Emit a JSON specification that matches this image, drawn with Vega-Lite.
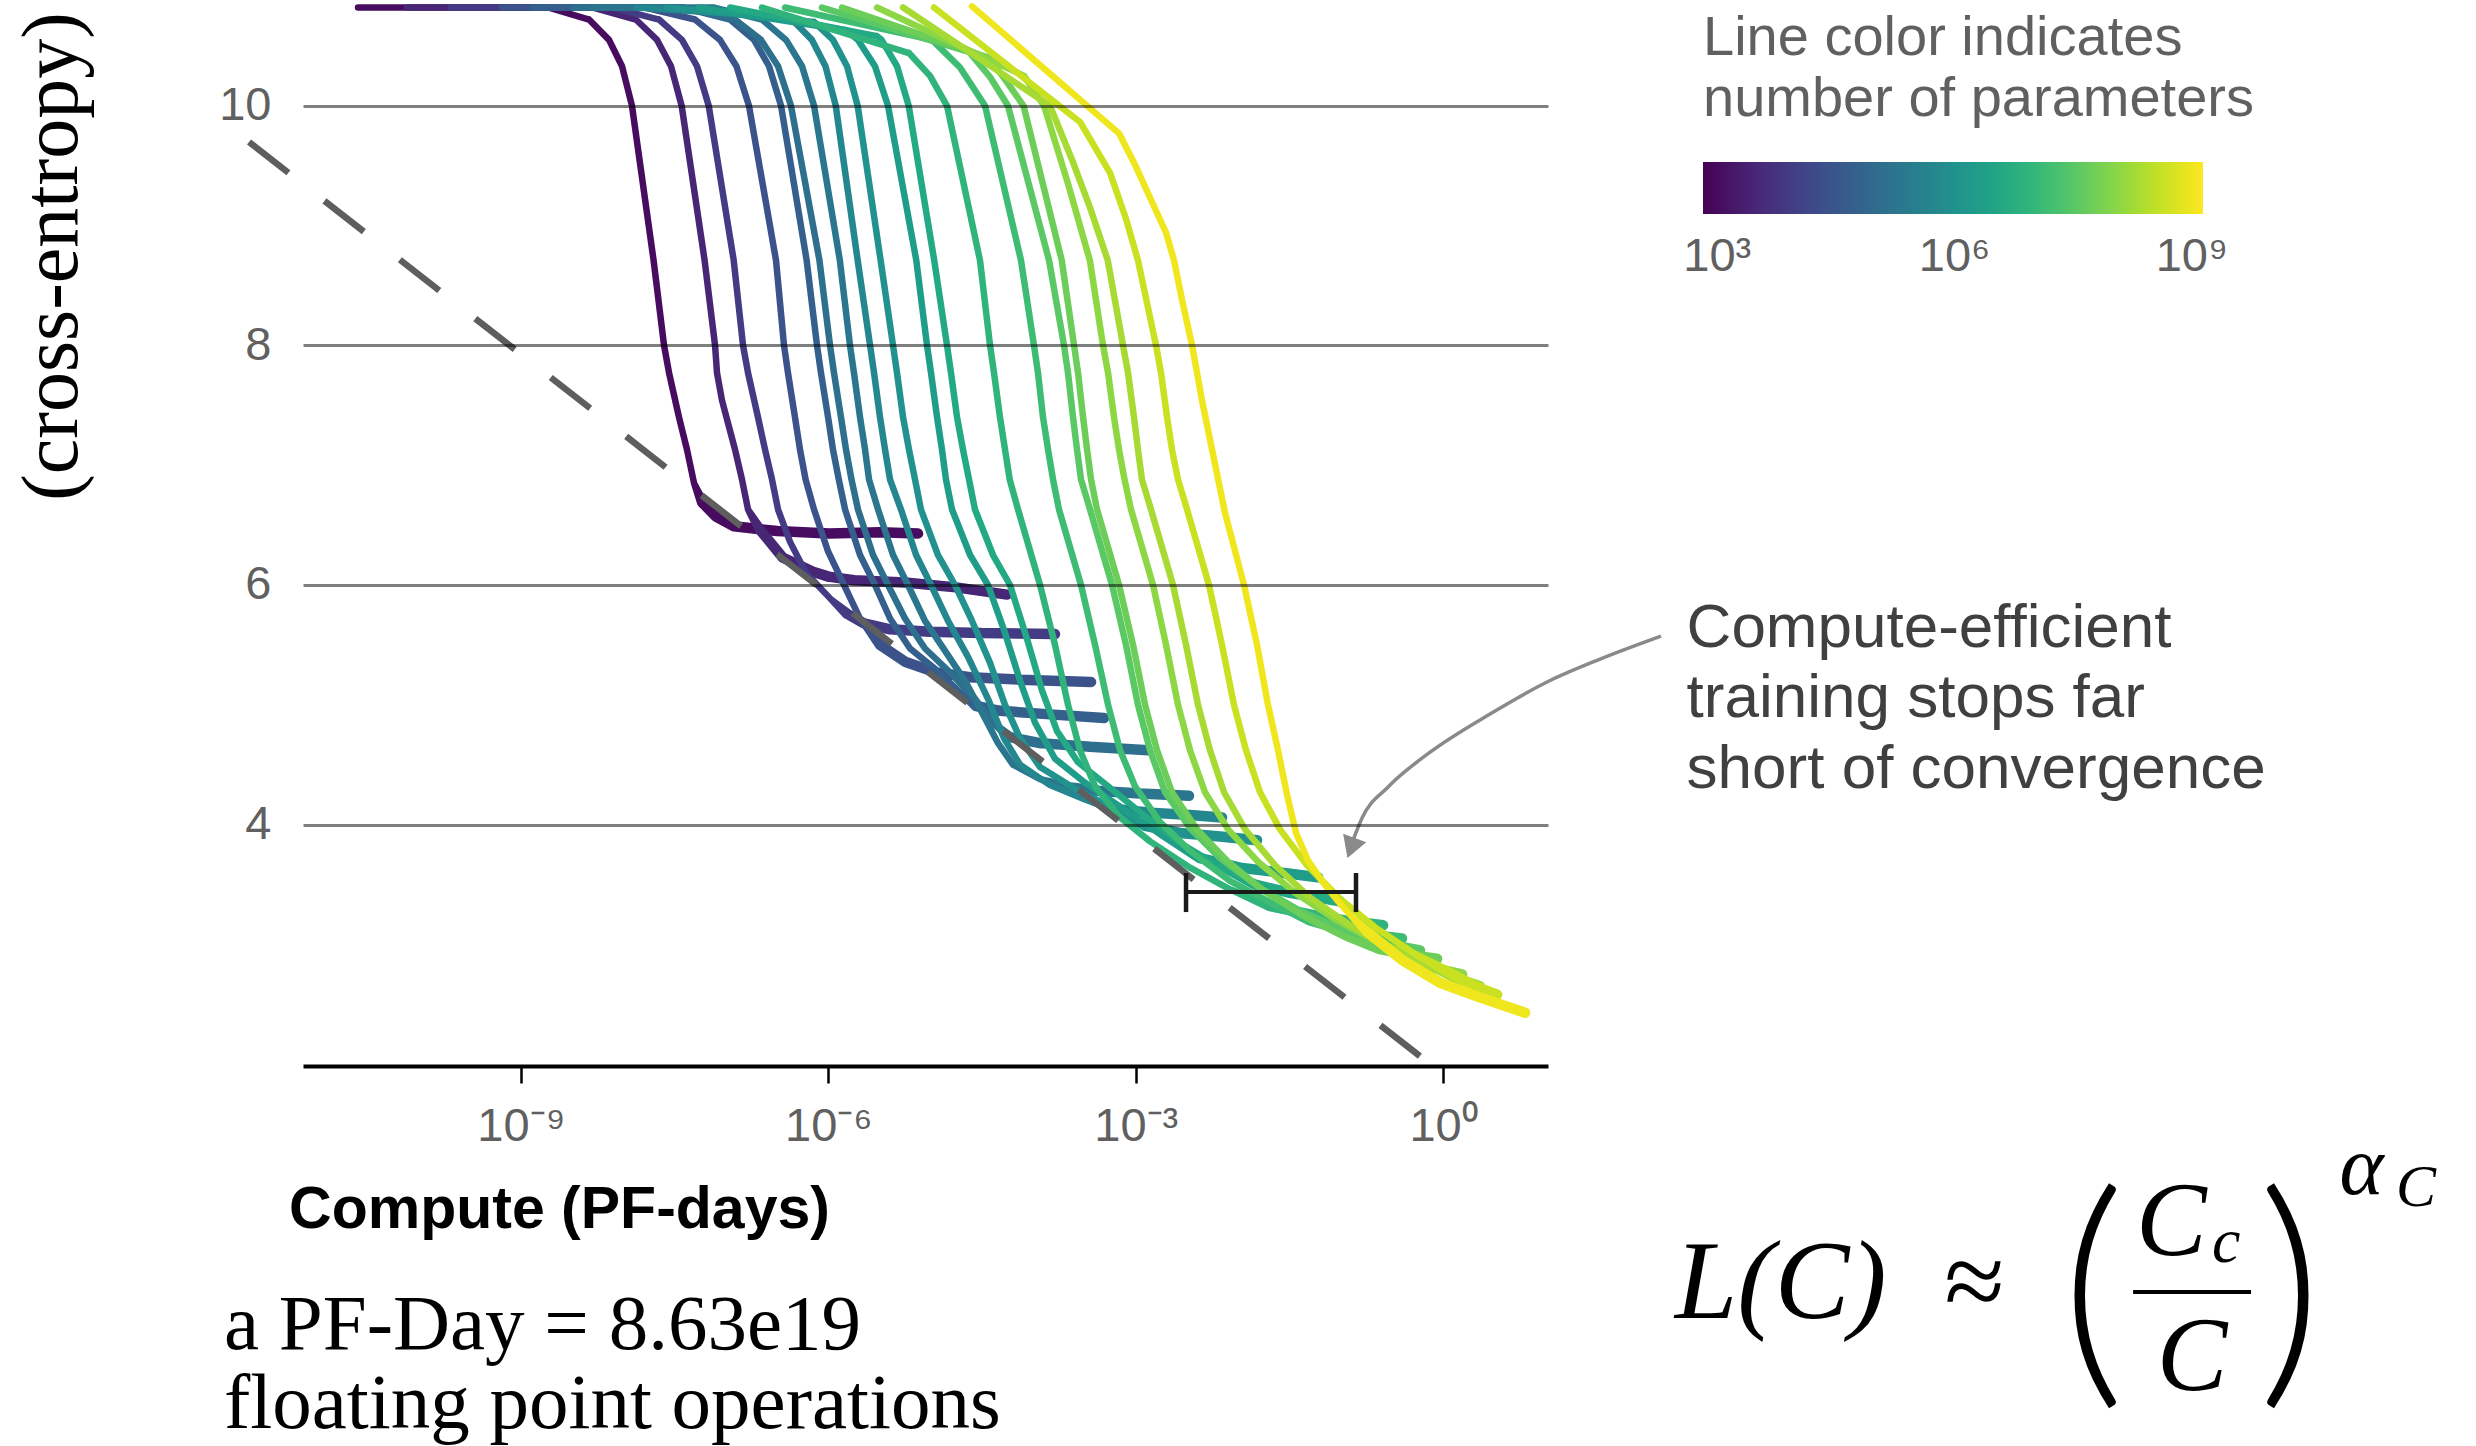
{
"$schema": "https://vega.github.io/schema/vega-lite/v6.json",
"width": 1245,
"height": 1066,
"autosize": {"type": "none"},
"padding": {"left": 303, "top": 0, "right": 928, "bottom": 380},
"background": "white",
"config": {"view": {"stroke": null}},
"datasets": {
"curves": [
{"logN":3.0,"logC":-10.591,"loss":10.82,"phase":"fall"},{"logN":3.0,"logC":-8.727,"loss":10.82,"phase":"fall"},{"logN":3.0,"logC":-8.336,"loss":10.72,"phase":"fall"},{"logN":3.0,"logC":-8.141,"loss":10.55,"phase":"fall"},{"logN":3.0,"logC":-8.014,"loss":10.33,"phase":"fall"},{"logN":3.0,"logC":-7.917,"loss":10.0,"phase":"fall"},{"logN":3.0,"logC":-7.706,"loss":8.71,"phase":"fall"},{"logN":3.0,"logC":-7.604,"loss":8.0,"phase":"fall"},{"logN":3.0,"logC":-7.555,"loss":7.77,"phase":"fall"},{"logN":3.0,"logC":-7.458,"loss":7.40,"phase":"fall"},{"logN":3.0,"logC":-7.380,"loss":7.13,"phase":"fall"},{"logN":3.0,"logC":-7.311,"loss":6.85,"phase":"fall"},{"logN":3.0,"logC":-7.233,"loss":6.69,"phase":"tail"},{"logN":3.0,"logC":-7.097,"loss":6.57,"phase":"tail"},{"logN":3.0,"logC":-6.921,"loss":6.49,"phase":"tail"},{"logN":3.0,"logC":-6.501,"loss":6.45,"phase":"tail"},{"logN":3.0,"logC":-5.994,"loss":6.43,"phase":"tail"},{"logN":3.0,"logC":-5.496,"loss":6.44,"phase":"tail"},{"logN":3.0,"logC":-5.125,"loss":6.43,"phase":"tail"},
{"logN":3.48,"logC":-10.113,"loss":10.82,"phase":"fall"},{"logN":3.48,"logC":-8.297,"loss":10.82,"phase":"fall"},{"logN":3.48,"logC":-7.879,"loss":10.72,"phase":"fall"},{"logN":3.48,"logC":-7.672,"loss":10.55,"phase":"fall"},{"logN":3.48,"logC":-7.536,"loss":10.33,"phase":"fall"},{"logN":3.48,"logC":-7.432,"loss":10.0,"phase":"fall"},{"logN":3.48,"logC":-7.208,"loss":8.71,"phase":"fall"},{"logN":3.48,"logC":-7.106,"loss":8.0,"phase":"fall"},{"logN":3.48,"logC":-7.087,"loss":7.77,"phase":"fall"},{"logN":3.48,"logC":-7.038,"loss":7.54,"phase":"fall"},{"logN":3.48,"logC":-6.911,"loss":7.13,"phase":"fall"},{"logN":3.48,"logC":-6.843,"loss":6.88,"phase":"fall"},{"logN":3.48,"logC":-6.784,"loss":6.63,"phase":"fall"},{"logN":3.48,"logC":-6.667,"loss":6.46,"phase":"tail"},{"logN":3.48,"logC":-6.447,"loss":6.23,"phase":"tail"},{"logN":3.48,"logC":-6.150,"loss":6.11,"phase":"tail"},{"logN":3.48,"logC":-5.998,"loss":6.07,"phase":"tail"},{"logN":3.48,"logC":-5.750,"loss":6.04,"phase":"tail"},{"logN":3.48,"logC":-5.252,"loss":6.02,"phase":"tail"},{"logN":3.48,"logC":-4.754,"loss":5.98,"phase":"tail"},{"logN":3.48,"logC":-4.256,"loss":5.92,"phase":"tail"},
{"logN":3.91,"logC":-9.683,"loss":10.82,"phase":"fall"},{"logN":3.91,"logC":-8.105,"loss":10.82,"phase":"fall"},{"logN":3.91,"logC":-7.653,"loss":10.72,"phase":"fall"},{"logN":3.91,"logC":-7.429,"loss":10.55,"phase":"fall"},{"logN":3.91,"logC":-7.282,"loss":10.33,"phase":"fall"},{"logN":3.91,"logC":-7.168,"loss":10.0,"phase":"fall"},{"logN":3.91,"logC":-6.924,"loss":8.71,"phase":"fall"},{"logN":3.91,"logC":-6.833,"loss":8.0,"phase":"fall"},{"logN":3.91,"logC":-6.784,"loss":7.77,"phase":"fall"},{"logN":3.91,"logC":-6.687,"loss":7.40,"phase":"fall"},{"logN":3.91,"logC":-6.618,"loss":7.13,"phase":"fall"},{"logN":3.91,"logC":-6.550,"loss":6.88,"phase":"fall"},{"logN":3.91,"logC":-6.491,"loss":6.63,"phase":"fall"},{"logN":3.91,"logC":-6.374,"loss":6.36,"phase":"fall"},{"logN":3.91,"logC":-6.218,"loss":6.10,"phase":"fall"},{"logN":3.91,"logC":-5.974,"loss":5.88,"phase":"fall"},{"logN":3.91,"logC":-5.818,"loss":5.76,"phase":"tail"},{"logN":3.91,"logC":-5.652,"loss":5.68,"phase":"tail"},{"logN":3.91,"logC":-5.398,"loss":5.63,"phase":"tail"},{"logN":3.91,"logC":-5.008,"loss":5.61,"phase":"tail"},{"logN":3.91,"logC":-4.510,"loss":5.60,"phase":"tail"},{"logN":3.91,"logC":-3.788,"loss":5.59,"phase":"tail"},
{"logN":4.41,"logC":-9.185,"loss":10.82,"phase":"fall"},{"logN":4.41,"logC":-7.790,"loss":10.82,"phase":"fall"},{"logN":4.41,"logC":-7.302,"loss":10.72,"phase":"fall"},{"logN":4.41,"logC":-7.058,"loss":10.55,"phase":"fall"},{"logN":4.41,"logC":-6.897,"loss":10.33,"phase":"fall"},{"logN":4.41,"logC":-6.775,"loss":10.0,"phase":"fall"},{"logN":4.41,"logC":-6.511,"loss":8.71,"phase":"fall"},{"logN":4.41,"logC":-6.433,"loss":8.0,"phase":"fall"},{"logN":4.41,"logC":-6.394,"loss":7.77,"phase":"fall"},{"logN":4.41,"logC":-6.326,"loss":7.40,"phase":"fall"},{"logN":4.41,"logC":-6.277,"loss":7.13,"phase":"fall"},{"logN":4.41,"logC":-6.222,"loss":6.88,"phase":"fall"},{"logN":4.41,"logC":-6.140,"loss":6.63,"phase":"fall"},{"logN":4.41,"logC":-6.003,"loss":6.28,"phase":"fall"},{"logN":4.41,"logC":-5.847,"loss":6.0,"phase":"fall"},{"logN":4.41,"logC":-5.691,"loss":5.72,"phase":"fall"},{"logN":4.41,"logC":-5.496,"loss":5.50,"phase":"tail"},{"logN":4.41,"logC":-5.252,"loss":5.36,"phase":"tail"},{"logN":4.41,"logC":-4.949,"loss":5.27,"phase":"tail"},{"logN":4.41,"logC":-4.617,"loss":5.23,"phase":"tail"},{"logN":4.41,"logC":-4.129,"loss":5.21,"phase":"tail"},{"logN":4.41,"logC":-3.436,"loss":5.19,"phase":"tail"},
{"logN":4.71,"logC":-8.883,"loss":10.82,"phase":"fall"},{"logN":4.71,"logC":-7.419,"loss":10.82,"phase":"fall"},{"logN":4.71,"logC":-6.960,"loss":10.72,"phase":"fall"},{"logN":4.71,"logC":-6.726,"loss":10.55,"phase":"fall"},{"logN":4.71,"logC":-6.579,"loss":10.33,"phase":"fall"},{"logN":4.71,"logC":-6.462,"loss":10.0,"phase":"fall"},{"logN":4.71,"logC":-6.212,"loss":8.71,"phase":"fall"},{"logN":4.71,"logC":-6.111,"loss":8.0,"phase":"fall"},{"logN":4.71,"logC":-6.072,"loss":7.77,"phase":"fall"},{"logN":4.71,"logC":-6.003,"loss":7.40,"phase":"fall"},{"logN":4.71,"logC":-5.955,"loss":7.13,"phase":"fall"},{"logN":4.71,"logC":-5.898,"loss":6.88,"phase":"fall"},{"logN":4.71,"logC":-5.837,"loss":6.63,"phase":"fall"},{"logN":4.71,"logC":-5.691,"loss":6.25,"phase":"fall"},{"logN":4.71,"logC":-5.545,"loss":6.0,"phase":"fall"},{"logN":4.71,"logC":-5.398,"loss":5.72,"phase":"fall"},{"logN":4.71,"logC":-5.203,"loss":5.47,"phase":"fall"},{"logN":4.71,"logC":-4.959,"loss":5.30,"phase":"fall"},{"logN":4.71,"logC":-4.734,"loss":5.12,"phase":"fall"},{"logN":4.71,"logC":-4.559,"loss":4.99,"phase":"tail"},{"logN":4.71,"logC":-4.325,"loss":4.95,"phase":"tail"},{"logN":4.71,"logC":-3.837,"loss":4.92,"phase":"tail"},{"logN":4.71,"logC":-3.309,"loss":4.89,"phase":"tail"},
{"logN":5.11,"logC":-8.483,"loss":10.82,"phase":"fall"},{"logN":5.11,"logC":-7.419,"loss":10.82,"phase":"fall"},{"logN":5.11,"logC":-6.911,"loss":10.72,"phase":"fall"},{"logN":5.11,"logC":-6.657,"loss":10.55,"phase":"fall"},{"logN":5.11,"logC":-6.491,"loss":10.33,"phase":"fall"},{"logN":5.11,"logC":-6.365,"loss":10.0,"phase":"fall"},{"logN":5.11,"logC":-6.087,"loss":8.71,"phase":"fall"},{"logN":5.11,"logC":-5.984,"loss":8.0,"phase":"fall"},{"logN":5.11,"logC":-5.945,"loss":7.77,"phase":"fall"},{"logN":5.11,"logC":-5.877,"loss":7.40,"phase":"fall"},{"logN":5.11,"logC":-5.828,"loss":7.13,"phase":"fall"},{"logN":5.11,"logC":-5.774,"loss":6.88,"phase":"fall"},{"logN":5.11,"logC":-5.711,"loss":6.63,"phase":"fall"},{"logN":5.11,"logC":-5.564,"loss":6.25,"phase":"fall"},{"logN":5.11,"logC":-5.418,"loss":6.0,"phase":"fall"},{"logN":5.11,"logC":-5.252,"loss":5.72,"phase":"fall"},{"logN":5.11,"logC":-5.057,"loss":5.47,"phase":"fall"},{"logN":5.11,"logC":-4.813,"loss":5.27,"phase":"fall"},{"logN":5.11,"logC":-4.569,"loss":5.05,"phase":"fall"},{"logN":5.11,"logC":-4.393,"loss":4.85,"phase":"fall"},{"logN":5.11,"logC":-4.227,"loss":4.73,"phase":"tail"},{"logN":5.11,"logC":-3.934,"loss":4.68,"phase":"tail"},{"logN":5.11,"logC":-3.446,"loss":4.65,"phase":"tail"},{"logN":5.11,"logC":-2.880,"loss":4.62,"phase":"tail"},
{"logN":5.29,"logC":-8.297,"loss":10.82,"phase":"fall"},{"logN":5.29,"logC":-7.116,"loss":10.82,"phase":"fall"},{"logN":5.29,"logC":-6.648,"loss":10.72,"phase":"fall"},{"logN":5.29,"logC":-6.413,"loss":10.55,"phase":"fall"},{"logN":5.29,"logC":-6.257,"loss":10.33,"phase":"fall"},{"logN":5.29,"logC":-6.140,"loss":10.0,"phase":"fall"},{"logN":5.29,"logC":-5.888,"loss":8.71,"phase":"fall"},{"logN":5.29,"logC":-5.789,"loss":8.0,"phase":"fall"},{"logN":5.29,"logC":-5.750,"loss":7.77,"phase":"fall"},{"logN":5.29,"logC":-5.691,"loss":7.40,"phase":"fall"},{"logN":5.29,"logC":-5.642,"loss":7.13,"phase":"fall"},{"logN":5.29,"logC":-5.603,"loss":6.88,"phase":"fall"},{"logN":5.29,"logC":-5.515,"loss":6.63,"phase":"fall"},{"logN":5.29,"logC":-5.369,"loss":6.25,"phase":"fall"},{"logN":5.29,"logC":-5.223,"loss":6.0,"phase":"fall"},{"logN":5.29,"logC":-5.057,"loss":5.70,"phase":"fall"},{"logN":5.29,"logC":-4.861,"loss":5.45,"phase":"fall"},{"logN":5.29,"logC":-4.666,"loss":5.20,"phase":"fall"},{"logN":5.29,"logC":-4.491,"loss":4.92,"phase":"fall"},{"logN":5.29,"logC":-4.344,"loss":4.68,"phase":"fall"},{"logN":5.29,"logC":-4.198,"loss":4.50,"phase":"fall"},{"logN":5.29,"logC":-3.934,"loss":4.38,"phase":"fall"},{"logN":5.29,"logC":-3.641,"loss":4.31,"phase":"tail"},{"logN":5.29,"logC":-3.349,"loss":4.28,"phase":"tail"},{"logN":5.29,"logC":-2.958,"loss":4.26,"phase":"tail"},{"logN":5.29,"logC":-2.480,"loss":4.24,"phase":"tail"},
{"logN":5.72,"logC":-7.868,"loss":10.82,"phase":"fall"},{"logN":5.72,"logC":-6.433,"loss":10.74,"phase":"fall"},{"logN":5.72,"logC":-6.355,"loss":10.72,"phase":"fall"},{"logN":5.72,"logC":-6.160,"loss":10.55,"phase":"fall"},{"logN":5.72,"logC":-6.028,"loss":10.33,"phase":"fall"},{"logN":5.72,"logC":-5.928,"loss":10.0,"phase":"fall"},{"logN":5.72,"logC":-5.714,"loss":8.71,"phase":"fall"},{"logN":5.72,"logC":-5.593,"loss":8.0,"phase":"fall"},{"logN":5.72,"logC":-5.554,"loss":7.77,"phase":"fall"},{"logN":5.72,"logC":-5.496,"loss":7.40,"phase":"fall"},{"logN":5.72,"logC":-5.447,"loss":7.13,"phase":"fall"},{"logN":5.72,"logC":-5.398,"loss":6.88,"phase":"fall"},{"logN":5.72,"logC":-5.291,"loss":6.63,"phase":"fall"},{"logN":5.72,"logC":-5.144,"loss":6.25,"phase":"fall"},{"logN":5.72,"logC":-4.998,"loss":6.0,"phase":"fall"},{"logN":5.72,"logC":-4.832,"loss":5.70,"phase":"fall"},{"logN":5.72,"logC":-4.637,"loss":5.40,"phase":"fall"},{"logN":5.72,"logC":-4.442,"loss":5.05,"phase":"fall"},{"logN":5.72,"logC":-4.286,"loss":4.72,"phase":"fall"},{"logN":5.72,"logC":-4.129,"loss":4.50,"phase":"fall"},{"logN":5.72,"logC":-3.837,"loss":4.33,"phase":"fall"},{"logN":5.72,"logC":-3.495,"loss":4.21,"phase":"fall"},{"logN":5.72,"logC":-3.202,"loss":4.13,"phase":"tail"},{"logN":5.72,"logC":-2.860,"loss":4.10,"phase":"tail"},{"logN":5.72,"logC":-2.470,"loss":4.08,"phase":"tail"},{"logN":5.72,"logC":-2.158,"loss":4.06,"phase":"tail"},
{"logN":6.02,"logC":-7.575,"loss":10.82,"phase":"fall"},{"logN":6.02,"logC":-6.140,"loss":10.70,"phase":"fall"},{"logN":6.02,"logC":-5.955,"loss":10.55,"phase":"fall"},{"logN":6.02,"logC":-5.818,"loss":10.33,"phase":"fall"},{"logN":6.02,"logC":-5.714,"loss":10.0,"phase":"fall"},{"logN":6.02,"logC":-5.490,"loss":8.71,"phase":"fall"},{"logN":6.02,"logC":-5.369,"loss":8.0,"phase":"fall"},{"logN":6.02,"logC":-5.330,"loss":7.77,"phase":"fall"},{"logN":6.02,"logC":-5.271,"loss":7.40,"phase":"fall"},{"logN":6.02,"logC":-5.213,"loss":7.13,"phase":"fall"},{"logN":6.02,"logC":-5.154,"loss":6.88,"phase":"fall"},{"logN":6.02,"logC":-5.096,"loss":6.63,"phase":"fall"},{"logN":6.02,"logC":-4.930,"loss":6.25,"phase":"fall"},{"logN":6.02,"logC":-4.764,"loss":6.0,"phase":"fall"},{"logN":6.02,"logC":-4.598,"loss":5.70,"phase":"fall"},{"logN":6.02,"logC":-4.422,"loss":5.35,"phase":"fall"},{"logN":6.02,"logC":-4.276,"loss":5.0,"phase":"fall"},{"logN":6.02,"logC":-4.129,"loss":4.72,"phase":"fall"},{"logN":6.02,"logC":-3.934,"loss":4.48,"phase":"fall"},{"logN":6.02,"logC":-3.593,"loss":4.30,"phase":"fall"},{"logN":6.02,"logC":-3.251,"loss":4.15,"phase":"fall"},{"logN":6.02,"logC":-2.909,"loss":3.99,"phase":"tail"},{"logN":6.02,"logC":-2.568,"loss":3.93,"phase":"tail"},{"logN":6.02,"logC":-2.177,"loss":3.90,"phase":"tail"},{"logN":6.02,"logC":-1.816,"loss":3.87,"phase":"tail"},
{"logN":6.33,"logC":-7.263,"loss":10.82,"phase":"fall"},{"logN":6.33,"logC":-5.828,"loss":10.63,"phase":"fall"},{"logN":6.33,"logC":-5.711,"loss":10.55,"phase":"fall"},{"logN":6.33,"logC":-5.545,"loss":10.33,"phase":"fall"},{"logN":6.33,"logC":-5.418,"loss":10.0,"phase":"fall"},{"logN":6.33,"logC":-5.142,"loss":8.71,"phase":"fall"},{"logN":6.33,"logC":-5.037,"loss":8.0,"phase":"fall"},{"logN":6.33,"logC":-4.998,"loss":7.77,"phase":"fall"},{"logN":6.33,"logC":-4.939,"loss":7.40,"phase":"fall"},{"logN":6.33,"logC":-4.891,"loss":7.13,"phase":"fall"},{"logN":6.33,"logC":-4.852,"loss":6.88,"phase":"fall"},{"logN":6.33,"logC":-4.793,"loss":6.63,"phase":"fall"},{"logN":6.33,"logC":-4.617,"loss":6.25,"phase":"fall"},{"logN":6.33,"logC":-4.442,"loss":6.0,"phase":"fall"},{"logN":6.33,"logC":-4.276,"loss":5.6,"phase":"fall"},{"logN":6.33,"logC":-4.129,"loss":5.2,"phase":"fall"},{"logN":6.33,"logC":-3.983,"loss":4.85,"phase":"fall"},{"logN":6.33,"logC":-3.788,"loss":4.55,"phase":"fall"},{"logN":6.33,"logC":-3.495,"loss":4.35,"phase":"fall"},{"logN":6.33,"logC":-3.153,"loss":4.15,"phase":"fall"},{"logN":6.33,"logC":-2.763,"loss":3.92,"phase":"fall"},{"logN":6.33,"logC":-2.372,"loss":3.72,"phase":"tail"},{"logN":6.33,"logC":-1.982,"loss":3.64,"phase":"tail"},{"logN":6.33,"logC":-1.592,"loss":3.60,"phase":"tail"},{"logN":6.33,"logC":-1.221,"loss":3.56,"phase":"tail"},
{"logN":6.63,"logC":-6.960,"loss":10.82,"phase":"fall"},{"logN":6.63,"logC":-5.525,"loss":10.58,"phase":"fall"},{"logN":6.63,"logC":-5.481,"loss":10.55,"phase":"fall"},{"logN":6.63,"logC":-5.330,"loss":10.33,"phase":"fall"},{"logN":6.63,"logC":-5.216,"loss":10.0,"phase":"fall"},{"logN":6.63,"logC":-4.967,"loss":8.71,"phase":"fall"},{"logN":6.63,"logC":-4.842,"loss":8.0,"phase":"fall"},{"logN":6.63,"logC":-4.803,"loss":7.77,"phase":"fall"},{"logN":6.63,"logC":-4.744,"loss":7.40,"phase":"fall"},{"logN":6.63,"logC":-4.686,"loss":7.13,"phase":"fall"},{"logN":6.63,"logC":-4.627,"loss":6.88,"phase":"fall"},{"logN":6.63,"logC":-4.569,"loss":6.63,"phase":"fall"},{"logN":6.63,"logC":-4.393,"loss":6.25,"phase":"fall"},{"logN":6.63,"logC":-4.227,"loss":6.0,"phase":"fall"},{"logN":6.63,"logC":-4.061,"loss":5.55,"phase":"fall"},{"logN":6.63,"logC":-3.915,"loss":5.12,"phase":"fall"},{"logN":6.63,"logC":-3.768,"loss":4.78,"phase":"fall"},{"logN":6.63,"logC":-3.563,"loss":4.52,"phase":"fall"},{"logN":6.63,"logC":-3.270,"loss":4.32,"phase":"fall"},{"logN":6.63,"logC":-2.909,"loss":4.07,"phase":"fall"},{"logN":6.63,"logC":-2.519,"loss":3.82,"phase":"fall"},{"logN":6.63,"logC":-2.128,"loss":3.62,"phase":"fall"},{"logN":6.63,"logC":-1.836,"loss":3.50,"phase":"tail"},{"logN":6.63,"logC":-1.494,"loss":3.43,"phase":"tail"},{"logN":6.63,"logC":-1.006,"loss":3.36,"phase":"tail"},
{"logN":6.95,"logC":-6.648,"loss":10.82,"phase":"fall"},{"logN":6.95,"logC":-5.213,"loss":10.44,"phase":"fall"},{"logN":6.95,"logC":-5.008,"loss":10.25,"phase":"fall"},{"logN":6.95,"logC":-4.842,"loss":10.0,"phase":"fall"},{"logN":6.95,"logC":-4.520,"loss":8.71,"phase":"fall"},{"logN":6.95,"logC":-4.422,"loss":8.0,"phase":"fall"},{"logN":6.95,"logC":-4.383,"loss":7.77,"phase":"fall"},{"logN":6.95,"logC":-4.325,"loss":7.40,"phase":"fall"},{"logN":6.95,"logC":-4.276,"loss":7.13,"phase":"fall"},{"logN":6.95,"logC":-4.230,"loss":6.88,"phase":"fall"},{"logN":6.95,"logC":-4.149,"loss":6.63,"phase":"fall"},{"logN":6.95,"logC":-3.934,"loss":6.0,"phase":"fall"},{"logN":6.95,"logC":-3.788,"loss":5.5,"phase":"fall"},{"logN":6.95,"logC":-3.661,"loss":5.0,"phase":"fall"},{"logN":6.95,"logC":-3.544,"loss":4.62,"phase":"fall"},{"logN":6.95,"logC":-3.397,"loss":4.32,"phase":"fall"},{"logN":6.95,"logC":-3.153,"loss":4.06,"phase":"fall"},{"logN":6.95,"logC":-2.860,"loss":3.86,"phase":"fall"},{"logN":6.95,"logC":-2.470,"loss":3.64,"phase":"fall"},{"logN":6.95,"logC":-2.080,"loss":3.46,"phase":"fall"},{"logN":6.95,"logC":-1.689,"loss":3.32,"phase":"tail"},{"logN":6.95,"logC":-1.299,"loss":3.25,"phase":"tail"},{"logN":6.95,"logC":-0.957,"loss":3.20,"phase":"tail"},{"logN":6.95,"logC":-0.586,"loss":3.16,"phase":"tail"},
{"logN":7.17,"logC":-6.423,"loss":10.82,"phase":"fall"},{"logN":7.17,"logC":-4.988,"loss":10.55,"phase":"fall"},{"logN":7.17,"logC":-4.715,"loss":10.32,"phase":"fall"},{"logN":7.17,"logC":-4.471,"loss":10.0,"phase":"fall"},{"logN":7.17,"logC":-4.120,"loss":8.71,"phase":"fall"},{"logN":7.17,"logC":-3.993,"loss":8.0,"phase":"fall"},{"logN":7.17,"logC":-3.954,"loss":7.77,"phase":"fall"},{"logN":7.17,"logC":-3.905,"loss":7.40,"phase":"fall"},{"logN":7.17,"logC":-3.856,"loss":7.13,"phase":"fall"},{"logN":7.17,"logC":-3.807,"loss":6.88,"phase":"fall"},{"logN":7.17,"logC":-3.749,"loss":6.63,"phase":"fall"},{"logN":7.17,"logC":-3.534,"loss":6.0,"phase":"fall"},{"logN":7.17,"logC":-3.397,"loss":5.5,"phase":"fall"},{"logN":7.17,"logC":-3.270,"loss":5.0,"phase":"fall"},{"logN":7.17,"logC":-3.153,"loss":4.62,"phase":"fall"},{"logN":7.17,"logC":-3.007,"loss":4.32,"phase":"fall"},{"logN":7.17,"logC":-2.763,"loss":4.02,"phase":"fall"},{"logN":7.17,"logC":-2.470,"loss":3.78,"phase":"fall"},{"logN":7.17,"logC":-2.080,"loss":3.53,"phase":"fall"},{"logN":7.17,"logC":-1.689,"loss":3.35,"phase":"fall"},{"logN":7.17,"logC":-1.299,"loss":3.20,"phase":"tail"},{"logN":7.17,"logC":-1.006,"loss":3.13,"phase":"tail"},{"logN":7.17,"logC":-0.713,"loss":3.08,"phase":"tail"},{"logN":7.17,"logC":-0.401,"loss":3.05,"phase":"tail"},
{"logN":7.53,"logC":-6.062,"loss":10.82,"phase":"fall"},{"logN":7.53,"logC":-4.627,"loss":10.45,"phase":"fall"},{"logN":7.53,"logC":-4.422,"loss":10.24,"phase":"fall"},{"logN":7.53,"logC":-4.247,"loss":10.0,"phase":"fall"},{"logN":7.53,"logC":-3.846,"loss":8.71,"phase":"fall"},{"logN":7.53,"logC":-3.700,"loss":8.0,"phase":"fall"},{"logN":7.53,"logC":-3.661,"loss":7.77,"phase":"fall"},{"logN":7.53,"logC":-3.612,"loss":7.40,"phase":"fall"},{"logN":7.53,"logC":-3.573,"loss":7.13,"phase":"fall"},{"logN":7.53,"logC":-3.534,"loss":6.88,"phase":"fall"},{"logN":7.53,"logC":-3.446,"loss":6.63,"phase":"fall"},{"logN":7.53,"logC":-3.231,"loss":6.0,"phase":"fall"},{"logN":7.53,"logC":-3.095,"loss":5.5,"phase":"fall"},{"logN":7.53,"logC":-2.978,"loss":5.0,"phase":"fall"},{"logN":7.53,"logC":-2.860,"loss":4.62,"phase":"fall"},{"logN":7.53,"logC":-2.714,"loss":4.27,"phase":"fall"},{"logN":7.53,"logC":-2.470,"loss":3.97,"phase":"fall"},{"logN":7.53,"logC":-2.177,"loss":3.72,"phase":"fall"},{"logN":7.53,"logC":-1.787,"loss":3.47,"phase":"fall"},{"logN":7.53,"logC":-1.396,"loss":3.28,"phase":"fall"},{"logN":7.53,"logC":-1.006,"loss":3.12,"phase":"tail"},{"logN":7.53,"logC":-0.664,"loss":3.02,"phase":"tail"},{"logN":7.53,"logC":-0.225,"loss":2.95,"phase":"tail"},
{"logN":7.73,"logC":-5.867,"loss":10.82,"phase":"fall"},{"logN":7.73,"logC":-4.432,"loss":10.40,"phase":"fall"},{"logN":7.73,"logC":-4.276,"loss":10.22,"phase":"fall"},{"logN":7.73,"logC":-4.095,"loss":10.0,"phase":"fall"},{"logN":7.73,"logC":-3.722,"loss":8.71,"phase":"fall"},{"logN":7.73,"logC":-3.602,"loss":8.0,"phase":"fall"},{"logN":7.73,"logC":-3.563,"loss":7.77,"phase":"fall"},{"logN":7.73,"logC":-3.514,"loss":7.40,"phase":"fall"},{"logN":7.73,"logC":-3.475,"loss":7.13,"phase":"fall"},{"logN":7.73,"logC":-3.436,"loss":6.88,"phase":"fall"},{"logN":7.73,"logC":-3.378,"loss":6.63,"phase":"fall"},{"logN":7.73,"logC":-3.163,"loss":6.0,"phase":"fall"},{"logN":7.73,"logC":-3.026,"loss":5.5,"phase":"fall"},{"logN":7.73,"logC":-2.909,"loss":5.0,"phase":"fall"},{"logN":7.73,"logC":-2.792,"loss":4.62,"phase":"fall"},{"logN":7.73,"logC":-2.646,"loss":4.27,"phase":"fall"},{"logN":7.73,"logC":-2.402,"loss":3.96,"phase":"fall"},{"logN":7.73,"logC":-2.099,"loss":3.69,"phase":"fall"},{"logN":7.73,"logC":-1.738,"loss":3.44,"phase":"fall"},{"logN":7.73,"logC":-1.348,"loss":3.23,"phase":"fall"},{"logN":7.73,"logC":-0.957,"loss":3.06,"phase":"fall"},{"logN":7.73,"logC":-0.615,"loss":2.96,"phase":"tail"},{"logN":7.73,"logC":-0.323,"loss":2.91,"phase":"tail"},{"logN":7.73,"logC":-0.059,"loss":2.88,"phase":"tail"},
{"logN":8.07,"logC":-5.525,"loss":10.82,"phase":"fall"},{"logN":8.07,"logC":-4.090,"loss":10.25,"phase":"fall"},{"logN":8.07,"logC":-3.895,"loss":10.0,"phase":"fall"},{"logN":8.07,"logC":-3.661,"loss":9.35,"phase":"fall"},{"logN":8.07,"logC":-3.448,"loss":8.71,"phase":"fall"},{"logN":8.07,"logC":-3.319,"loss":8.0,"phase":"fall"},{"logN":8.07,"logC":-3.270,"loss":7.77,"phase":"fall"},{"logN":8.07,"logC":-3.212,"loss":7.40,"phase":"fall"},{"logN":8.07,"logC":-3.163,"loss":7.13,"phase":"fall"},{"logN":8.07,"logC":-3.109,"loss":6.88,"phase":"fall"},{"logN":8.07,"logC":-3.046,"loss":6.63,"phase":"fall"},{"logN":8.07,"logC":-2.831,"loss":6.0,"phase":"fall"},{"logN":8.07,"logC":-2.704,"loss":5.5,"phase":"fall"},{"logN":8.07,"logC":-2.587,"loss":5.0,"phase":"fall"},{"logN":8.07,"logC":-2.470,"loss":4.62,"phase":"fall"},{"logN":8.07,"logC":-2.324,"loss":4.27,"phase":"fall"},{"logN":8.07,"logC":-2.099,"loss":3.96,"phase":"fall"},{"logN":8.07,"logC":-1.806,"loss":3.69,"phase":"fall"},{"logN":8.07,"logC":-1.445,"loss":3.43,"phase":"fall"},{"logN":8.07,"logC":-1.055,"loss":3.21,"phase":"fall"},{"logN":8.07,"logC":-0.664,"loss":3.03,"phase":"fall"},{"logN":8.07,"logC":-0.323,"loss":2.89,"phase":"tail"},{"logN":8.07,"logC":-0.079,"loss":2.80,"phase":"tail"},{"logN":8.07,"logC":0.185,"loss":2.75,"phase":"tail"},
{"logN":8.32,"logC":-5.271,"loss":10.82,"phase":"fall"},{"logN":8.32,"logC":-3.837,"loss":10.0,"phase":"fall"},{"logN":8.32,"logC":-3.622,"loss":9.55,"phase":"fall"},{"logN":8.32,"logC":-3.446,"loss":9.15,"phase":"fall"},{"logN":8.32,"logC":-3.273,"loss":8.71,"phase":"fall"},{"logN":8.32,"logC":-3.124,"loss":8.0,"phase":"fall"},{"logN":8.32,"logC":-3.075,"loss":7.77,"phase":"fall"},{"logN":8.32,"logC":-3.017,"loss":7.40,"phase":"fall"},{"logN":8.32,"logC":-2.978,"loss":7.13,"phase":"fall"},{"logN":8.32,"logC":-2.939,"loss":6.88,"phase":"fall"},{"logN":8.32,"logC":-2.851,"loss":6.63,"phase":"fall"},{"logN":8.32,"logC":-2.636,"loss":6.0,"phase":"fall"},{"logN":8.32,"logC":-2.509,"loss":5.5,"phase":"fall"},{"logN":8.32,"logC":-2.392,"loss":5.0,"phase":"fall"},{"logN":8.32,"logC":-2.275,"loss":4.62,"phase":"fall"},{"logN":8.32,"logC":-2.138,"loss":4.27,"phase":"fall"},{"logN":8.32,"logC":-1.933,"loss":3.96,"phase":"fall"},{"logN":8.32,"logC":-1.640,"loss":3.66,"phase":"fall"},{"logN":8.32,"logC":-1.299,"loss":3.39,"phase":"fall"},{"logN":8.32,"logC":-0.908,"loss":3.16,"phase":"fall"},{"logN":8.32,"logC":-0.518,"loss":2.98,"phase":"fall"},{"logN":8.32,"logC":-0.127,"loss":2.83,"phase":"tail"},{"logN":8.32,"logC":0.117,"loss":2.72,"phase":"tail"},{"logN":8.32,"logC":0.361,"loss":2.65,"phase":"tail"},
{"logN":8.63,"logC":-4.969,"loss":10.82,"phase":"fall"},{"logN":8.63,"logC":-3.544,"loss":9.865,"phase":"fall"},{"logN":8.63,"logC":-3.251,"loss":9.44,"phase":"fall"},{"logN":8.63,"logC":-3.100,"loss":9.07,"phase":"fall"},{"logN":8.63,"logC":-2.978,"loss":8.71,"phase":"fall"},{"logN":8.63,"logC":-2.802,"loss":8.0,"phase":"fall"},{"logN":8.63,"logC":-2.753,"loss":7.77,"phase":"fall"},{"logN":8.63,"logC":-2.694,"loss":7.40,"phase":"fall"},{"logN":8.63,"logC":-2.646,"loss":7.13,"phase":"fall"},{"logN":8.63,"logC":-2.587,"loss":6.88,"phase":"fall"},{"logN":8.63,"logC":-2.499,"loss":6.63,"phase":"fall"},{"logN":8.63,"logC":-2.285,"loss":6.0,"phase":"fall"},{"logN":8.63,"logC":-2.158,"loss":5.5,"phase":"fall"},{"logN":8.63,"logC":-2.041,"loss":5.0,"phase":"fall"},{"logN":8.63,"logC":-1.923,"loss":4.62,"phase":"fall"},{"logN":8.63,"logC":-1.787,"loss":4.27,"phase":"fall"},{"logN":8.63,"logC":-1.592,"loss":3.96,"phase":"fall"},{"logN":8.63,"logC":-1.328,"loss":3.66,"phase":"fall"},{"logN":8.63,"logC":-1.006,"loss":3.38,"phase":"fall"},{"logN":8.63,"logC":-0.645,"loss":3.13,"phase":"fall"},{"logN":8.63,"logC":-0.293,"loss":2.93,"phase":"fall"},{"logN":8.63,"logC":0.068,"loss":2.76,"phase":"tail"},{"logN":8.63,"logC":0.312,"loss":2.65,"phase":"tail"},{"logN":8.63,"logC":0.527,"loss":2.58,"phase":"tail"},
{"logN":9.0,"logC":-4.598,"loss":10.83,"phase":"fall"},{"logN":9.0,"logC":-3.163,"loss":9.77,"phase":"fall"},{"logN":9.0,"logC":-2.997,"loss":9.49,"phase":"fall"},{"logN":9.0,"logC":-2.880,"loss":9.27,"phase":"fall"},{"logN":9.0,"logC":-2.704,"loss":8.94,"phase":"fall"},{"logN":9.0,"logC":-2.626,"loss":8.71,"phase":"fall"},{"logN":9.0,"logC":-2.548,"loss":8.38,"phase":"fall"},{"logN":9.0,"logC":-2.450,"loss":8.0,"phase":"fall"},{"logN":9.0,"logC":-2.353,"loss":7.54,"phase":"fall"},{"logN":9.0,"logC":-2.255,"loss":7.13,"phase":"fall"},{"logN":9.0,"logC":-2.128,"loss":6.60,"phase":"fall"},{"logN":9.0,"logC":-1.943,"loss":6.0,"phase":"fall"},{"logN":9.0,"logC":-1.816,"loss":5.5,"phase":"fall"},{"logN":9.0,"logC":-1.709,"loss":5.0,"phase":"fall"},{"logN":9.0,"logC":-1.611,"loss":4.62,"phase":"fall"},{"logN":9.0,"logC":-1.523,"loss":4.25,"phase":"fall"},{"logN":9.0,"logC":-1.435,"loss":3.93,"phase":"fall"},{"logN":9.0,"logC":-1.318,"loss":3.70,"phase":"fall"},{"logN":9.0,"logC":-1.182,"loss":3.53,"phase":"fall"},{"logN":9.0,"logC":-1.035,"loss":3.37,"phase":"fall"},{"logN":9.0,"logC":-0.889,"loss":3.23,"phase":"fall"},{"logN":9.0,"logC":-0.733,"loss":3.10,"phase":"tail"},{"logN":9.0,"logC":-0.401,"loss":2.87,"phase":"tail"},{"logN":9.0,"logC":-0.030,"loss":2.68,"phase":"tail"},{"logN":9.0,"logC":0.351,"loss":2.56,"phase":"tail"},{"logN":9.0,"logC":0.800,"loss":2.43,"phase":"tail"}
],
"frontier": [{"logC": -11.655, "loss": 9.698}, {"logC": -0.215, "loss": 2.060}],
"arrow": [{"logC": 2.127, "loss": 5.574}, {"logC": 1.532, "loss": 5.382}, {"logC": 1.054, "loss": 5.207}, {"logC": 0.458, "loss": 4.923}, {"logC": -0.137, "loss": 4.598}, {"logC": -0.537, "loss": 4.314}, {"logC": -0.791, "loss": 4.055}, {"logC": -0.889, "loss": 3.846}]
},
"layer": [
{
"data": {"name": "curves"},
"mark": {"type": "trail", "clip": false},
"encoding": {
"x": {"field": "logC", "type": "quantitative", "scale": {"domain": [-11.128, 1.024], "nice": false, "zero": false},
"axis": {"values": [-9, -6, -3, 0], "labelExpr": "datum.value == -9 ? '10⁻⁹' : datum.value == -6 ? '10⁻⁶' : datum.value == -3 ? '10⁻³' : '10⁰'", "grid": false, "domainColor": "#000000", "domainWidth": 4, "tickColor": "#000000", "tickWidth": 2.5, "tickSize": 17, "labelPadding": 20, "labelFont": "Liberation Sans", "labelFontSize": 47, "labelColor": "#606060", "title": "Compute (PF-days)", "titleFont": "Liberation Sans", "titleFontSize": 59, "titleFontWeight": "bold", "titleColor": "#000000", "titleX": 256, "titleY": 161, "titleAlign": "center", "titleBaseline": "alphabetic"}},
"y": {"field": "loss", "type": "quantitative", "scale": {"domain": [1.985, 10.883], "nice": false, "zero": false},
"axis": {"values": [4, 6, 8, 10], "format": "d", "grid": true, "gridColor": "#000000", "gridOpacity": 0.5, "gridWidth": 3, "domain": false, "ticks": false, "labelPadding": 32, "labelFont": "Liberation Sans", "labelFontSize": 47, "labelColor": "#606060", "zindex": 1, "title": "(cross-entropy)", "titleFont": "Liberation Serif", "titleFontSize": 80, "titleFontWeight": "normal", "titleColor": "#000000", "titleX": -227, "titleY": 256, "titleAngle": 270, "titleAlign": "center", "titleBaseline": "alphabetic"}},
"color": {"field": "logN", "type": "quantitative", "scale": {"scheme": "viridis", "domain": [2.82, 9.14]},
"legend": {"title": ["Line color indicates", "number of parameters"], "orient": "none", "legendX": 1400, "legendY": 11, "direction": "horizontal", "gradientLength": 500, "gradientThickness": 52, "gradientStrokeWidth": 0, "values": [3, 6, 9], "labelExpr": "datum.value == 3 ? '10³' : datum.value == 6 ? '10⁶' : '10⁹'", "labelFont": "Liberation Sans", "labelFontSize": 47, "labelColor": "#606060", "labelOffset": 20, "labelAlign": "center", "labelOverlap": false, "titleFont": "Liberation Sans", "titleFontSize": 56, "titleFontWeight": "normal", "titleColor": "#606060", "titleLineHeight": 61, "titlePadding": 34, "titleLimit": 1000, "padding": 0}},
"detail": {"field": "logN", "type": "quantitative"},
"size": {"field": "phase", "type": "ordinal", "scale": {"domain": ["fall", "tail"], "range": [6.5, 10.5]}, "legend": null}
}
},
{
"data": {"name": "frontier"},
"mark": {"type": "line", "clip": false, "color": "#5e5e5e", "strokeWidth": 6.5, "strokeDash": [50, 45.7], "strokeCap": "butt"},
"encoding": {
"x": {"field": "logC", "type": "quantitative", "scale": {"domain": [-11.128, 1.024], "nice": false, "zero": false}},
"y": {"field": "loss", "type": "quantitative", "scale": {"domain": [1.985, 10.883], "nice": false, "zero": false}}
}
},
{
"data": {"values": [{}]},
"mark": {"type": "rule", "clip": false, "color": "#1a1a1a", "strokeWidth": 4},
"encoding": {
"x": {"datum": -2.509, "type": "quantitative", "scale": {"domain": [-11.128, 1.024], "nice": false, "zero": false}},
"x2": {"datum": -0.85},
"y": {"datum": 3.437, "type": "quantitative", "scale": {"domain": [1.985, 10.883], "nice": false, "zero": false}}
}
},
{
"data": {"values": [{}]},
"mark": {"type": "rule", "clip": false, "color": "#1a1a1a", "strokeWidth": 4.5},
"encoding": {
"x": {"datum": -2.509, "type": "quantitative", "scale": {"domain": [-11.128, 1.024], "nice": false, "zero": false}},
"y": {"datum": 3.27, "type": "quantitative", "scale": {"domain": [1.985, 10.883], "nice": false, "zero": false}},
"y2": {"datum": 3.596}
}
},
{
"data": {"values": [{}]},
"mark": {"type": "rule", "clip": false, "color": "#1a1a1a", "strokeWidth": 4.5},
"encoding": {
"x": {"datum": -0.85, "type": "quantitative", "scale": {"domain": [-11.128, 1.024], "nice": false, "zero": false}},
"y": {"datum": 3.27, "type": "quantitative", "scale": {"domain": [1.985, 10.883], "nice": false, "zero": false}},
"y2": {"datum": 3.596}
}
},
{
"data": {"name": "arrow"},
"mark": {"type": "line", "clip": false, "color": "#8a8a8a", "strokeWidth": 3.5, "interpolate": "monotone"},
"encoding": {
"x": {"field": "logC", "type": "quantitative", "scale": {"domain": [-11.128, 1.024], "nice": false, "zero": false}},
"y": {"field": "loss", "type": "quantitative", "scale": {"domain": [1.985, 10.883], "nice": false, "zero": false}}
}
},
{
"data": {"values": [{}]},
"mark": {"type": "point", "clip": false, "shape": "triangle-down", "filled": true, "size": 605, "angle": 20, "color": "#8a8a8a", "opacity": 1},
"encoding": {
"x": {"datum": -0.898, "type": "quantitative", "scale": {"domain": [-11.128, 1.024], "nice": false, "zero": false}},
"y": {"datum": 3.805, "type": "quantitative", "scale": {"domain": [1.985, 10.883], "nice": false, "zero": false}}
}
},
{
"data": {"values": [{}]},
"mark": {"type": "text", "clip": false, "align": "left", "baseline": "alphabetic", "font": "Liberation Sans", "fontSize": 62, "lineHeight": 70.7, "color": "#404040"},
"encoding": {
"x": {"datum": 2.377, "type": "quantitative", "scale": {"domain": [-11.128, 1.024], "nice": false, "zero": false}},
"y": {"datum": 5.485, "type": "quantitative", "scale": {"domain": [1.985, 10.883], "nice": false, "zero": false}},
"text": {"value": ["Compute-efficient", "training stops far", "short of convergence"]}
}
},
{
"data": {"values": [{}]},
"mark": {"type": "text", "clip": false, "align": "left", "baseline": "alphabetic", "font": "Liberation Serif", "fontSize": 79, "lineHeight": 79, "color": "#000000"},
"encoding": {
"x": {"datum": -11.899, "type": "quantitative", "scale": {"domain": [-11.128, 1.024], "nice": false, "zero": false}},
"y": {"datum": -0.378, "type": "quantitative", "scale": {"domain": [1.985, 10.883], "nice": false, "zero": false}},
"text": {"value": ["a PF-Day = 8.63e19", "floating point operations"]}
}
},
{
"data": {"values": [{}]},
"mark": {"type": "text", "clip": false, "align": "left", "baseline": "alphabetic", "font": "Liberation Serif", "fontStyle": "italic", "fontSize": 112, "color": "#000000"},
"encoding": {
"x": {"datum": 2.264, "type": "quantitative", "scale": {"domain": [-11.128, 1.024], "nice": false, "zero": false}},
"y": {"datum": -0.119, "type": "quantitative", "scale": {"domain": [1.985, 10.883], "nice": false, "zero": false}},
"text": {"value": "L(C)"}
}
},
{
"data": {"values": [{}]},
"mark": {"type": "text", "clip": false, "align": "center", "baseline": "alphabetic", "font": "Liberation Serif", "fontSize": 110, "color": "#000000"},
"encoding": {
"x": {"datum": 5.187, "type": "quantitative", "scale": {"domain": [-11.128, 1.024], "nice": false, "zero": false}},
"y": {"datum": -0.119, "type": "quantitative", "scale": {"domain": [1.985, 10.883], "nice": false, "zero": false}},
"text": {"value": "≈"}
}
},
{
"data": {"values": [{}]},
"mark": {"type": "text", "clip": false, "align": "center", "baseline": "alphabetic", "font": "Lato", "fontWeight": 300, "fontSize": 250, "color": "#000000"},
"encoding": {
"x": {"datum": 6.344, "type": "quantitative", "scale": {"domain": [-11.128, 1.024], "nice": false, "zero": false}},
"y": {"datum": -0.594, "type": "quantitative", "scale": {"domain": [1.985, 10.883], "nice": false, "zero": false}},
"text": {"value": "("}
}
},
{
"data": {"values": [{}]},
"mark": {"type": "text", "clip": false, "align": "center", "baseline": "alphabetic", "font": "Lato", "fontWeight": 300, "fontSize": 250, "color": "#000000"},
"encoding": {
"x": {"datum": 8.267, "type": "quantitative", "scale": {"domain": [-11.128, 1.024], "nice": false, "zero": false}},
"y": {"datum": -0.594, "type": "quantitative", "scale": {"domain": [1.985, 10.883], "nice": false, "zero": false}},
"text": {"value": ")"}
}
},
{
"data": {"values": [{}]},
"mark": {"type": "text", "clip": false, "align": "left", "baseline": "alphabetic", "font": "Liberation Serif", "fontStyle": "italic", "fontSize": 106, "color": "#000000"},
"encoding": {
"x": {"datum": 6.764, "type": "quantitative", "scale": {"domain": [-11.128, 1.024], "nice": false, "zero": false}},
"y": {"datum": 0.407, "type": "quantitative", "scale": {"domain": [1.985, 10.883], "nice": false, "zero": false}},
"text": {"value": "C"}
}
},
{
"data": {"values": [{}]},
"mark": {"type": "text", "clip": false, "align": "left", "baseline": "alphabetic", "font": "Liberation Serif", "fontStyle": "italic", "fontSize": 64, "color": "#000000"},
"encoding": {
"x": {"datum": 7.505, "type": "quantitative", "scale": {"domain": [-11.128, 1.024], "nice": false, "zero": false}},
"y": {"datum": 0.349, "type": "quantitative", "scale": {"domain": [1.985, 10.883], "nice": false, "zero": false}},
"text": {"value": "c"}
}
},
{
"data": {"values": [{}]},
"mark": {"type": "rule", "clip": false, "color": "#000000", "strokeWidth": 4},
"encoding": {
"x": {"datum": 6.735, "type": "quantitative", "scale": {"domain": [-11.128, 1.024], "nice": false, "zero": false}},
"x2": {"datum": 7.886},
"y": {"datum": 0.098, "type": "quantitative", "scale": {"domain": [1.985, 10.883], "nice": false, "zero": false}}
}
},
{
"data": {"values": [{}]},
"mark": {"type": "text", "clip": false, "align": "center", "baseline": "alphabetic", "font": "Liberation Serif", "fontStyle": "italic", "fontSize": 106, "color": "#000000"},
"encoding": {
"x": {"datum": 7.311, "type": "quantitative", "scale": {"domain": [-11.128, 1.024], "nice": false, "zero": false}},
"y": {"datum": -0.72, "type": "quantitative", "scale": {"domain": [1.985, 10.883], "nice": false, "zero": false}},
"text": {"value": "C"}
}
},
{
"data": {"values": [{}]},
"mark": {"type": "text", "clip": false, "align": "left", "baseline": "alphabetic", "font": "Liberation Serif", "fontStyle": "italic", "fontSize": 84, "color": "#000000"},
"encoding": {
"x": {"datum": 8.75, "type": "quantitative", "scale": {"domain": [-11.128, 1.024], "nice": false, "zero": false}},
"y": {"datum": 0.92, "type": "quantitative", "scale": {"domain": [1.985, 10.883], "nice": false, "zero": false}},
"text": {"value": "α"}
}
},
{
"data": {"values": [{}]},
"mark": {"type": "text", "clip": false, "align": "left", "baseline": "alphabetic", "font": "Liberation Serif", "fontStyle": "italic", "fontSize": 60, "color": "#000000"},
"encoding": {
"x": {"datum": 9.30, "type": "quantitative", "scale": {"domain": [-11.128, 1.024], "nice": false, "zero": false}},
"y": {"datum": 0.82, "type": "quantitative", "scale": {"domain": [1.985, 10.883], "nice": false, "zero": false}},
"text": {"value": "C"}
}
}
]
}
